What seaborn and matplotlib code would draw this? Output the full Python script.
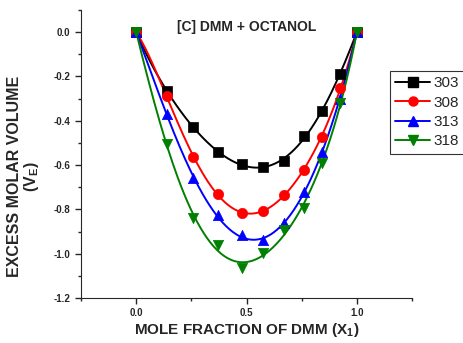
import numpy as np
import pandas as pd
import matplotlib
matplotlib.use("Agg")
import matplotlib.pyplot as plt
import seaborn as sns
from matplotlib.lines import Line2D
from matplotlib.ticker import MultipleLocator

# mole fraction of DMM
x1 = [0.0, 0.14, 0.257, 0.37, 0.478, 0.574, 0.671, 0.761, 0.842, 0.923, 1.0]
# excess molar volume at each temperature (K)
ve_303 = [0.0, -0.265, -0.43, -0.54, -0.595, -0.607, -0.58, -0.47, -0.355, -0.19, 0.0]
ve_308 = [0.0, -0.29, -0.565, -0.73, -0.815, -0.805, -0.733, -0.62, -0.475, -0.25, 0.0]
ve_313 = [0.0, -0.37, -0.66, -0.827, -0.917, -0.94, -0.86, -0.72, -0.54, -0.30, 0.0]
ve_318 = [0.0, -0.505, -0.84, -0.96, -1.065, -0.997, -0.895, -0.795, -0.59, -0.32, 0.0]
temps = ["303", "308", "313", "318"]
series = [ve_303, ve_308, ve_313, ve_318]
colors = ["black", "red", "blue", "green"]
markers = ["s", "o", "^", "v"]

sns.set_style("ticks")
plt.rcParams["font.family"] = ["Liberation Sans", "DejaVu Sans"]
plt.rcParams["mathtext.fontset"] = "custom"
plt.rcParams["mathtext.bf"] = "Liberation Sans:bold"
plt.rcParams["mathtext.rm"] = "Liberation Sans:bold"
plt.rcParams["mathtext.it"] = "Liberation Sans:bold"

fig = plt.figure(figsize=(4.63, 3.43), dpi=100)
ax = fig.add_axes([0.175, 0.131, 0.715, 0.84])

xs = np.linspace(0, 1, 200)
for t, v, c, m in zip(temps, series, colors, markers):
    x = np.array(x1)
    y = np.array(v)
    # Redlich-Kister type smoothing: V = x(1-x) * sum A_k (2x-1)^k
    mask = (x > 0) & (x < 1)
    basis = np.vstack([x[mask] * (1 - x[mask]) * (2 * x[mask] - 1) ** k for k in range(4)]).T
    coef = np.linalg.lstsq(basis, y[mask], rcond=None)[0]
    ys = sum(coef[k] * xs * (1 - xs) * (2 * xs - 1) ** k for k in range(4))
    sns.lineplot(x=xs, y=ys, color=c, linewidth=1.4, ax=ax, legend=False)
    sns.scatterplot(x=x, y=y, color=c, marker=m, s=55, edgecolor=c, linewidth=0.5, ax=ax, legend=False, zorder=3)

ax.set_xlim(-0.25, 1.25)
ax.set_ylim(-1.2, 0.1)
ax.xaxis.set_minor_locator(MultipleLocator(0.25))
ax.yaxis.set_minor_locator(MultipleLocator(0.1))
ax.tick_params(which="major", direction="out", length=4, width=1)
ax.tick_params(which="minor", direction="out", length=2, width=1)
ax.set_xticks([0.0, 0.5, 1.0])
ax.set_xticklabels(["0.0", "0.5", "1.0"], fontweight="bold", fontsize=7)
yt = [-1.2, -1.0, -0.8, -0.6, -0.4, -0.2, 0.0]
ax.set_yticks(yt)
ax.set_yticklabels(["%.1f" % v for v in yt], fontweight="bold", fontsize=7)
sns.despine(ax=ax)

ax.set_xlabel("MOLE FRACTION OF DMM (X$_{1}$)", fontsize=11, fontweight="bold")
ax.set_ylabel("EXCESS MOLAR VOLUME\n(V$_{E}$)", fontsize=11.5, fontweight="bold", linespacing=1.0)
ax.xaxis.set_label_coords(0.5, -0.08)
ax.yaxis.set_label_coords(-0.121, 0.422)
ax.text(0.5, 0.965, "[C] DMM + OCTANOL", transform=ax.transAxes, ha="center", va="top",
        fontsize=10, fontweight="bold")

handles = [Line2D([], [], color=c, marker=m, markersize=6.5, linewidth=1.4) for c, m in zip(colors, markers)]
leg = fig.legend(handles, temps, loc="upper left", bbox_to_anchor=(390 / 463, 1 - 71 / 343), fontsize=11,
                 frameon=True, fancybox=False, edgecolor="black", handlelength=2.3,
                 borderpad=0.35, labelspacing=0.35, handletextpad=0.2, borderaxespad=0)
leg.get_frame().set_linewidth(0.8)

fig.savefig("out.png", dpi=100)
